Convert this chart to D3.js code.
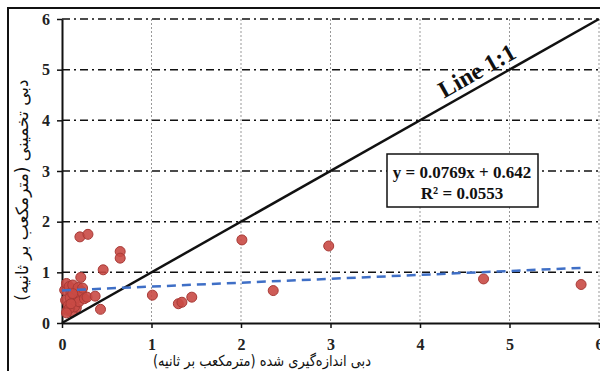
<!DOCTYPE html>
<html>
<head>
<meta charset="utf-8">
<script src="https://cdn.jsdelivr.net/npm/d3@7"></script>
<style>
  body { margin: 0; background: #fff; }
  .serif { font-family: "Liberation Serif", "Times New Roman", "DejaVu Serif", serif; font-weight: bold; }
</style>
</head>
<body>
<script>
/* data */
const measured = [0.03, 0.05, 0.08, 0.10, 0.12, 0.15, 0.18, 0.20, 0.22, 0.04, 0.07, 0.09, 0.13, 0.16,
  0.06, 0.11, 0.14, 0.19, 0.25, 0.08, 0.12, 0.05, 0.10, 0.23,
  0.21, 0.28, 0.37, 0.43, 0.46, 0.20, 0.29, 0.65, 0.65, 1.01, 1.30, 1.34, 1.45, 2.01, 2.36, 2.98, 4.71, 5.80];
const estimated = [0.65, 0.78, 0.72, 0.60, 0.75, 0.55, 0.70, 0.50, 0.62, 0.45, 0.35, 0.50, 0.40, 0.30,
  0.25, 0.22, 0.32, 0.42, 0.48, 0.28, 0.58, 0.20, 0.38, 0.69,
  0.90, 0.51, 0.53, 0.27, 1.05, 1.70, 1.75, 1.41, 1.28, 0.55, 0.38, 0.41, 0.51, 1.64, 0.64, 1.52, 0.87, 0.76];
const tickValues = [0, 1, 2, 3, 4, 5, 6];
const slope = 0.0769, intercept = 0.642;
const trendRange = [0, 5.8];
const equationLines = ['y = 0.0769x + 0.642', 'R² = 0.0553'];

const W = 600, H = 371;
const x = d3.scaleLinear().domain([0, 6]).range([62, 599]);
const y = d3.scaleLinear().domain([0, 6]).range([323, 19]);

const svg = d3.select('body').append('svg')
  .attr('width', W).attr('height', H);

// outer frame
svg.append('rect')
  .attr('x', 8).attr('y', 8).attr('width', 600).attr('height', 370)
  .attr('fill', 'none').attr('stroke', '#111').attr('stroke-width', 2);

// vertical grid (light dotted)
svg.append('g').selectAll('line')
  .data(tickValues.filter(d => d > 0))
  .enter().append('line')
  .attr('x1', d => x(d)).attr('x2', d => x(d))
  .attr('y1', y(6)).attr('y2', y(0))
  .attr('stroke', '#999').attr('stroke-width', 1)
  .attr('stroke-dasharray', '2,2');

// horizontal grid (dash-dot black)
svg.append('g').selectAll('line')
  .data(tickValues.filter(d => d > 0))
  .enter().append('line')
  .attr('x1', x(0)).attr('x2', x(6))
  .attr('y1', d => y(d)).attr('y2', d => y(d))
  .attr('stroke', '#111').attr('stroke-width', 1.5)
  .attr('stroke-dasharray', '8,4,2,4');

// axes
const fmt = d3.format('d');
const xAxis = d3.axisBottom(x).tickValues(tickValues).tickFormat(fmt).tickSize(5).tickSizeOuter(0);
const yAxis = d3.axisLeft(y).tickValues(tickValues).tickFormat(fmt).tickSize(5).tickSizeOuter(0);

function styleAxis(g) {
  g.attr('font-family', null).attr('font-size', null);
  g.select('.domain').attr('stroke', '#111').attr('stroke-width', 2);
  g.selectAll('.tick line').attr('stroke', '#111').attr('stroke-width', 1.5);
  g.selectAll('.tick text').attr('class', 'serif')
    .style('font-size', '16px').attr('fill', '#222');
}

const gx = svg.append('g').attr('transform', 'translate(0,' + y(0) + ')').call(xAxis);
styleAxis(gx);
gx.selectAll('.tick text').attr('dy', '1.2em');

const gy = svg.append('g').attr('transform', 'translate(' + x(0) + ',0)').call(yAxis);
styleAxis(gy);
gy.selectAll('.tick text').attr('x', -12);

// points
const pts = measured.map((m, i) => ({ m: m, e: estimated[i] }));
svg.append('g').selectAll('circle')
  .data(pts)
  .enter().append('circle')
  .attr('cx', d => x(d.m))
  .attr('cy', d => y(d.e))
  .attr('r', 5)
  .attr('fill', '#C94A45')
  .attr('fill-opacity', 0.9)
  .attr('stroke', '#A83A36')
  .attr('stroke-width', 1);

// 1:1 line
svg.append('line')
  .attr('x1', x(0)).attr('y1', y(0))
  .attr('x2', x(6)).attr('y2', y(6))
  .attr('stroke', '#111').attr('stroke-width', 2.5);

// trend line
svg.append('line')
  .attr('x1', x(trendRange[0])).attr('y1', y(slope * trendRange[0] + intercept))
  .attr('x2', x(trendRange[1])).attr('y2', y(slope * trendRange[1] + intercept))
  .attr('stroke', '#3F6FC6').attr('stroke-width', 2.5)
  .attr('stroke-dasharray', '9,6');

// Line 1:1 label
const ang = Math.atan2(y(0) - y(6), x(6) - x(0)) * 180 / Math.PI;
svg.append('text')
  .attr('class', 'serif')
  .attr('transform', 'translate(' + x(4.68) + ',' + (y(4.68) - 8) + ') rotate(' + (-ang) + ')')
  .attr('text-anchor', 'middle')
  .style('font-size', '24px')
  .style('fill', '#111')
  .text('Line 1:1');

// equation box
svg.append('rect')
  .attr('x', 387).attr('y', 154).attr('width', 151).attr('height', 53)
  .attr('fill', '#fff').attr('stroke', '#111').attr('stroke-width', 1.5);
svg.append('g').selectAll('text')
  .data(equationLines)
  .enter().append('text')
  .attr('class', 'serif')
  .attr('x', 462)
  .attr('y', (d, i) => 178 + i * 21)
  .attr('text-anchor', 'middle')
  .style('font-size', '17px')
  .style('fill', '#111')
  .text(d => d);

// axis titles
svg.append('text')
  .attr('x', 262).attr('y', 366)
  .attr('text-anchor', 'middle')
  .attr('textLength', 218)
  .attr('lengthAdjust', 'spacingAndGlyphs')
  .style('font-family', '"DejaVu Sans", sans-serif')
  .style('font-size', '15px')
  .style('fill', '#111')
  .text('دبی اندازه‌گیری شده (مترمکعب بر ثانیه)');

svg.append('text')
  .attr('transform', 'translate(28,' + 190 + ') rotate(-90)')
  .attr('text-anchor', 'middle')
  .style('font-family', '"DejaVu Sans", sans-serif')
  .style('font-size', '17px')
  .style('fill', '#111')
  .text('دبی تخمینی (مترمکعب بر ثانیه)');
</script>
</body>
</html>
